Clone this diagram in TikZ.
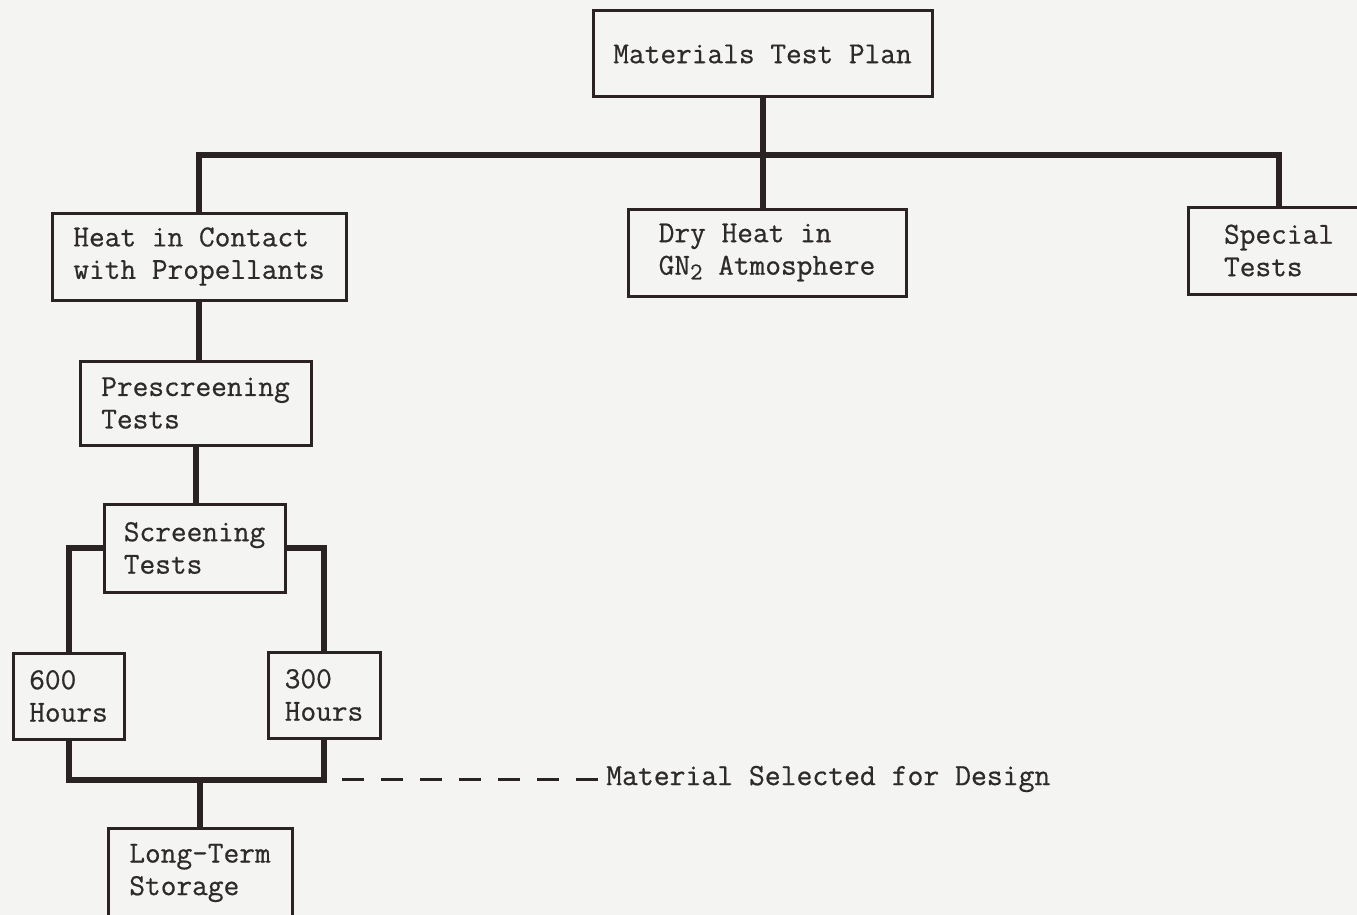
\documentclass[tikz,border=0pt]{standalone}
\usepackage{tikz}
\usepackage{fontspec}
\newfontfamily\typewriter{Latin Modern Mono}[FakeBold=0.6]
\definecolor{paper}{HTML}{F4F4F3}
\definecolor{ink}{HTML}{2B2323}
\definecolor{type}{HTML}{2E2A2A}
\begin{document}
\begin{tikzpicture}[x=1pt,y=-1pt,
  box/.style={draw=ink, line width=3pt, fill=paper, inner sep=0pt, align=left,
    text=type, font=\typewriter\fontsize{30.5pt}{32.5pt}\selectfont},
  link/.style={draw=ink, line width=6pt, line join=miter},
  note/.style={inner sep=0pt, text=type, font=\typewriter\fontsize{30.8pt}{32.5pt}\selectfont}]
\fill[paper] (0,0) rectangle (1357,915);
\useasboundingbox (0,0) rectangle (1357,915);

% boxes
\node[box, minimum width=339pt, minimum height=86pt] (top) at (762.5,54) {Materials Test Plan};
\node[box, minimum width=294pt, minimum height=87pt] (heat) at (199,256.5) {Heat in Contact\\with Propellants};
\node[box, minimum width=278pt, minimum height=87pt] (dry) at (767,252.5) {Dry Heat in\\GN\raisebox{-0.35ex}{\fontsize{24pt}{24pt}\selectfont 2} Atmosphere};
\node[box, minimum width=182pt, minimum height=87pt] (spec) at (1279,250.5) {Special\\Tests};
\node[box, minimum width=231pt, minimum height=84pt] (pre) at (195.5,403) {Prescreening\\Tests};
\node[box, minimum width=181pt, minimum height=88pt] (scr) at (194.5,548) {Screening\\Tests};
\node[box, minimum width=111pt, minimum height=86pt] (h600) at (68.5,696) {600\\Hours};
\node[box, minimum width=112pt, minimum height=86pt] (h300) at (324,695) {300\\Hours};
\node[box, minimum width=184pt, minimum height=90pt] (lt) at (200,873) {Long-Term\\Storage};
\node[note, anchor=west] (sel) at (606,779) {Material Selected for Design};

% junction points
\coordinate (j) at (765,155);
\coordinate (jb) at (200,780);
\coordinate (d) at (342,779);

% connectors
\draw[link] (top.south) -- (top.south |- dry.north);
\draw[link] (heat.north) |- (j) -| (spec.north);
\draw[link] (heat.south) -- (heat.south |- pre.north);
\draw[link] (pre.south) -- (pre.south |- scr.north);
\draw[link] (scr.west) -| (h600.north);
\draw[link] (scr.east) -| (h300.north);
\draw[link] (h600.south) |- (jb) -| (h300.south);
\draw[link] (jb) -- (jb |- lt.north);
\draw[ink, line width=3pt, dash pattern=on 22pt off 17pt] (d) -- ([xshift=-8pt]sel.west);
\end{tikzpicture}
\end{document}
